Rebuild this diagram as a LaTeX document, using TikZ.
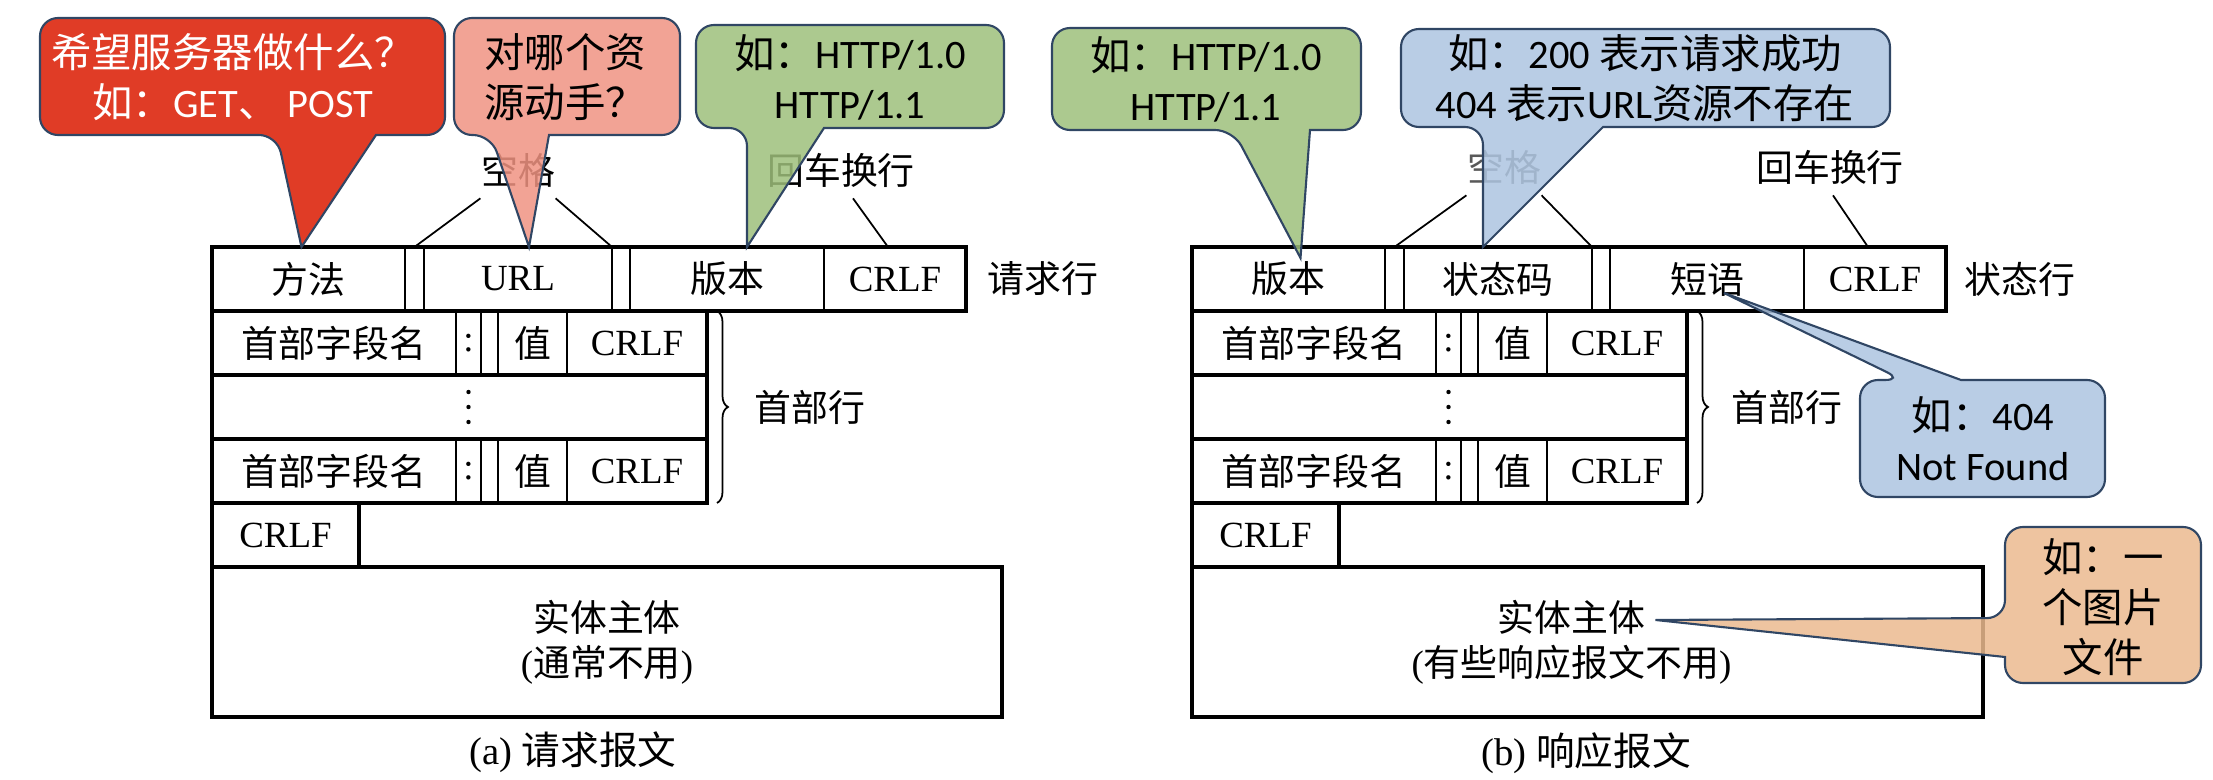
\documentclass[tikz,border=0pt]{standalone}
\usepackage{fontspec}
\setmainfont{Liberation Serif}
\newfontfamily\cjk{Noto Sans CJK SC}
\newfontfamily\calib{Carlito}
\newcommand{\zh}[1]{{\cjk #1}}
\usetikzlibrary{positioning,calc,decorations.pathreplacing}
\definecolor{redbub}{RGB}{219,26,0}
\definecolor{pinkbub}{RGB}{240,147,130}
\definecolor{greenbub}{RGB}{158,191,123}
\definecolor{bluebub}{RGB}{173,196,224}
\definecolor{orangebub}{RGB}{235,186,143}
\definecolor{bubline}{RGB}{48,70,100}

\begin{document}
\begin{tikzpicture}[x=1cm, y=-1cm,
  fieldbox/.style = {draw, line width=0.4pt, inner sep=0pt, outer sep=0pt, minimum height=0.64cm, font={\fontsize{10.5}{12.8}\selectfont}},
  lbl/.style = {inner sep=0pt, font={\fontsize{10.5}{12.8}\selectfont}},
  rowbox/.style = {line width=1pt},
  tieline/.style = {line width=0.5pt},
  bub/.style = {draw=bubline, line width=0.6pt, fill opacity=0.85},
  btext/.style = {inner sep=0pt, align=center, font={\fontsize{11.5}{14.2}\selectfont\calib}}]

\useasboundingbox (0,0) rectangle (22.13,7.80);

% (a) request message
\node[fieldbox, minimum width=1.93cm, anchor=north west] (method) at (2.12,2.47) {\zh{方法}};
\node[fieldbox, minimum width=0.19cm, right=0pt of method] (gapA1) {};
\node[fieldbox, minimum width=1.88cm, right=0pt of gapA1] (url) {URL};
\node[fieldbox, minimum width=0.18cm, right=0pt of url] (gapA2) {};
\node[fieldbox, minimum width=1.94cm, right=0pt of gapA2] (verA) {\zh{版本}};
\node[fieldbox, minimum width=1.42cm, right=0pt of verA] (crlfA) {CRLF};
\draw[rowbox] (method.north west) rectangle (crlfA.south east);
\node[lbl, right=0.21cm of crlfA] (reqline) {\zh{请求行}};

\node[fieldbox, minimum width=2.44cm, anchor=north west] (nameA1) at (method.south west) {\zh{首部字段名}};
\node[fieldbox, minimum width=0.25cm, right=0pt of nameA1] (colA1) {:};
\node[fieldbox, minimum width=0.17cm, right=0pt of colA1] (gapB1) {};
\node[fieldbox, minimum width=0.69cm, right=0pt of gapB1] (valA1) {\zh{值}};
\node[fieldbox, minimum width=1.40cm, right=0pt of valA1] (crlfB1) {CRLF};
\draw[rowbox] (nameA1.north west) rectangle (crlfB1.south east);

\node[fieldbox, minimum width=4.95cm, anchor=north west] (dotsA) at (nameA1.south west) {};
\draw[rowbox] (dotsA.north west) rectangle (dotsA.south east);
\fill (colA1 |- dotsA) ++(0,-0.15) circle (0.022) ++(0,0.15) circle (0.022) ++(0,0.15) circle (0.022);

\node[fieldbox, minimum width=2.44cm, anchor=north west] (nameA3) at (dotsA.south west) {\zh{首部字段名}};
\node[fieldbox, minimum width=0.25cm, right=0pt of nameA3] (colA3) {:};
\node[fieldbox, minimum width=0.17cm, right=0pt of colA3] (gapB3) {};
\node[fieldbox, minimum width=0.69cm, right=0pt of gapB3] (valA3) {\zh{值}};
\node[fieldbox, minimum width=1.40cm, right=0pt of valA3] (crlfB3) {CRLF};
\draw[rowbox] (nameA3.north west) rectangle (crlfB3.south east);

\node[fieldbox, rowbox, minimum width=1.47cm, anchor=north west] (crlfC) at (nameA3.south west) {CRLF};
\node[fieldbox, rowbox, minimum width=7.90cm, minimum height=1.50cm, anchor=north west, align=center] (bodyA) at (crlfC.south west) {\zh{实体主体}\\(\zh{通常不用})};

\draw[tieline, decorate, decoration={brace, amplitude=0.11cm}] ([xshift=0.1cm]crlfB1.north east) -- ([xshift=0.1cm]crlfB3.south east);
\node[lbl, anchor=west] (hdrA) at ([xshift=0.47cm]crlfB1.east |- dotsA.center) {\zh{首部行}};
\node[lbl, font={\fontsize{11}{13}\selectfont}] (capA) at (5.73,7.52) {(a) \zh{请求报文}};

\node[lbl] (spA) at (5.18,1.70) {\zh{空格}};
\node[lbl] (crA) at (8.41,1.70) {\zh{回车换行}};
\draw[tieline] ([yshift=-3pt]spA.south west) -- (gapA1.north);
\draw[tieline] ([yshift=-3pt]spA.south east) -- (gapA2.north west);
\draw[tieline] ([xshift=0.12cm,yshift=-3pt]crA.south) -- ([xshift=-0.07cm]crlfA.north);

% (b) response message
\node[fieldbox, minimum width=1.93cm, anchor=north west] (verB) at (11.92,2.47) {\zh{版本}};
\node[fieldbox, minimum width=0.19cm, right=0pt of verB] (gapC1) {};
\node[fieldbox, minimum width=1.88cm, right=0pt of gapC1] (status) {\zh{状态码}};
\node[fieldbox, minimum width=0.18cm, right=0pt of status] (gapC2) {};
\node[fieldbox, minimum width=1.94cm, right=0pt of gapC2] (phrase) {\zh{短语}};
\node[fieldbox, minimum width=1.42cm, right=0pt of phrase] (crlfD) {CRLF};
\draw[rowbox] (verB.north west) rectangle (crlfD.south east);
\node[lbl, right=0.18cm of crlfD] (statline) {\zh{状态行}};

\node[fieldbox, minimum width=2.44cm, anchor=north west] (nameB1) at (verB.south west) {\zh{首部字段名}};
\node[fieldbox, minimum width=0.25cm, right=0pt of nameB1] (colB1) {:};
\node[fieldbox, minimum width=0.17cm, right=0pt of colB1] (gapD1) {};
\node[fieldbox, minimum width=0.69cm, right=0pt of gapD1] (valB1) {\zh{值}};
\node[fieldbox, minimum width=1.40cm, right=0pt of valB1] (crlfE1) {CRLF};
\draw[rowbox] (nameB1.north west) rectangle (crlfE1.south east);

\node[fieldbox, minimum width=4.95cm, anchor=north west] (dotsB) at (nameB1.south west) {};
\draw[rowbox] (dotsB.north west) rectangle (dotsB.south east);
\fill (colB1 |- dotsB) ++(0,-0.15) circle (0.022) ++(0,0.15) circle (0.022) ++(0,0.15) circle (0.022);

\node[fieldbox, minimum width=2.44cm, anchor=north west] (nameB3) at (dotsB.south west) {\zh{首部字段名}};
\node[fieldbox, minimum width=0.25cm, right=0pt of nameB3] (colB3) {:};
\node[fieldbox, minimum width=0.17cm, right=0pt of colB3] (gapD3) {};
\node[fieldbox, minimum width=0.69cm, right=0pt of gapD3] (valB3) {\zh{值}};
\node[fieldbox, minimum width=1.40cm, right=0pt of valB3] (crlfE3) {CRLF};
\draw[rowbox] (nameB3.north west) rectangle (crlfE3.south east);

\node[fieldbox, rowbox, minimum width=1.47cm, anchor=north west] (crlfF) at (nameB3.south west) {CRLF};
\node[fieldbox, rowbox, minimum width=7.91cm, minimum height=1.50cm, anchor=north west] (bodyB) at (crlfF.south west) {};
\node[lbl, align=center] (bodyTxtB) at ([xshift=-0.16cm]bodyB.center) {\zh{实体主体}\\(\zh{有些响应报文不用})};

\draw[tieline, decorate, decoration={brace, amplitude=0.11cm}] ([xshift=0.1cm]crlfE1.north east) -- ([xshift=0.1cm]crlfE3.south east);
\node[lbl, anchor=west] (hdrB) at ([xshift=0.44cm]crlfE1.east |- dotsB.center) {\zh{首部行}};
\node[lbl, font={\fontsize{11}{13}\selectfont}] (capB) at (15.86,7.53) {(b) \zh{响应报文}};

\node[lbl, text=black!65] (spB) at (15.04,1.67) {\zh{空格}};
\node[lbl] (crB) at (18.30,1.67) {\zh{回车换行}};
\draw[tieline] ([yshift=-3pt]spB.south west) -- (gapC1.north);
\draw[tieline] ([yshift=-3pt]spB.south east) -- (gapC2.north west);
\draw[tieline] ([xshift=0.03cm,yshift=-3pt]crB.south) -- ([xshift=-0.07cm]crlfD.north);

% callouts
\coordinate (verTipB) at ($(verB.north)+(0.12,0.11)$);
\coordinate (nfTip) at ($(phrase.center)+(0.17,0.14)$);
\coordinate (imgTip) at ($(bodyTxtB.center)+(0.84,-0.22)$);

\filldraw[bub, fill=redbub] (0.40,0.77) [rounded corners=0.18cm] -- (0.40,1.35) -- (2.77,1.35) [sharp corners] -- ([xshift=-0.07cm]method.north) -- (3.76,1.35) [rounded corners=0.18cm] -- (4.45,1.35) -- (4.45,0.18) -- (0.40,0.18) -- cycle;
\node[btext, text=white] (askM) at (2.33,0.77) {\zh{希望服务器做什么？}\\\zh{如：}GET\zh{、} POST};

\filldraw[bub, fill=pinkbub] (4.54,0.77) [rounded corners=0.18cm] -- (4.54,1.35) -- (4.91,1.35) [sharp corners] -- ([xshift=0.11cm]url.north) -- (5.49,1.35) [rounded corners=0.18cm] -- (6.80,1.35) -- (6.80,0.18) -- (4.54,0.18) -- cycle;
\node[btext] (askR) at (5.65,0.77) {\zh{对哪个资}\\\zh{源动手？}};

\filldraw[bub, fill=greenbub] (6.96,0.77) [rounded corners=0.18cm] -- (6.96,1.28) -- (7.47,1.28) [sharp corners] -- ([xshift=0.2cm]verA.north) -- (8.24,1.28) [rounded corners=0.18cm] -- (10.04,1.28) -- (10.04,0.25) -- (6.96,0.25) -- cycle;
\node[btext] (verQA) at (8.50,0.77) {\zh{如：}HTTP/1.0\\HTTP/1.1};

\filldraw[bub, fill=greenbub] (10.52,0.79) [rounded corners=0.18cm] -- (10.52,1.30) -- (12.33,1.30) [sharp corners] -- (verTipB) -- (13.10,1.30) [rounded corners=0.18cm] -- (13.61,1.30) -- (13.61,0.28) -- (10.52,0.28) -- cycle;
\node[btext] (verQB) at (12.06,0.79) {\zh{如：}HTTP/1.0\\HTTP/1.1};

\filldraw[bub, fill=bluebub] (14.01,0.78) [rounded corners=0.18cm] -- (14.01,1.27) -- (14.83,1.27) [sharp corners] -- ([xshift=-0.15cm]status.north) -- (16.03,1.27) [rounded corners=0.18cm] -- (18.90,1.27) -- (18.90,0.29) -- (14.01,0.29) -- cycle;
\node[btext] (codeQ) at (16.45,0.78) {\zh{如：}200 \zh{表示请求成功}\\404 \zh{表示}URL\zh{资源不存在}};

\filldraw[bub, fill=bluebub] (18.60,4.39) [rounded corners=0.18cm] -- (18.60,3.80) -- (19.03,3.80) [sharp corners] -- (nfTip) -- (19.61,3.80) [rounded corners=0.18cm] -- (21.05,3.80) -- (21.05,4.97) -- (18.60,4.97) -- cycle;
\node[btext] (nfQ) at (19.83,4.39) {\zh{如：}404\\Not Found};

\filldraw[bub, fill=orangebub] (21.03,5.27) [rounded corners=0.18cm] -- (20.05,5.27) -- (20.05,6.18) [sharp corners] -- (imgTip) -- (20.05,6.57) [rounded corners=0.18cm] -- (20.05,6.83) -- (22.01,6.83) -- (22.01,5.27) -- cycle;
\node[btext] (imgQ) at (21.03,6.07) {\zh{如：一}\\\zh{个图片}\\\zh{文件}};
\end{tikzpicture}
\end{document}
